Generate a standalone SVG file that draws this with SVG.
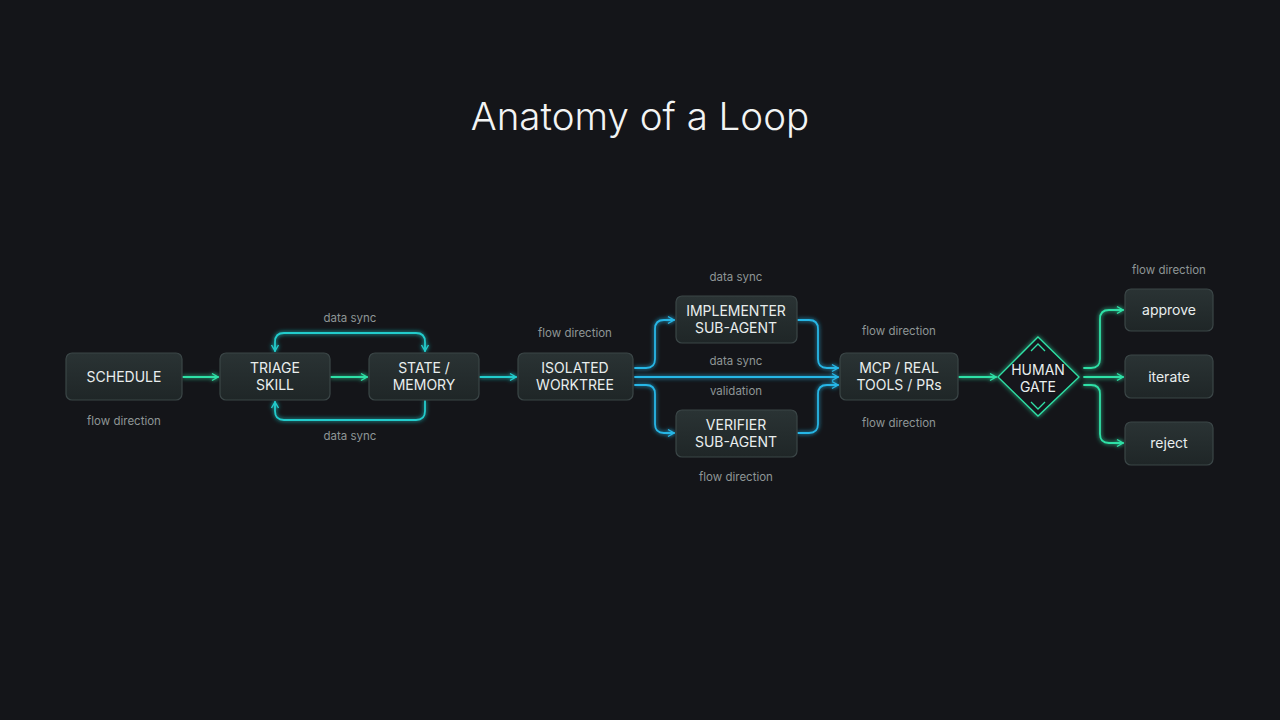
<svg xmlns="http://www.w3.org/2000/svg" width="1280" height="720" viewBox="0 0 1280 720">
<defs>
<style>
.node rect{fill:url(#ng);stroke:#3b4647;stroke-width:1.2}
.nt{font-family:Inter,"Liberation Sans",sans-serif;font-size:14px;fill:#e9eeee;text-anchor:middle}
.lb{font-family:Inter,"Liberation Sans",sans-serif;font-size:11.5px;fill:#8e9596;text-anchor:middle}
.c{fill:none;stroke-width:1.8;stroke-linecap:round;stroke-linejoin:round}
.g{stroke:#2fe0a6;marker-end:url(#ag)}
.t{stroke:#22cccc;marker-end:url(#at)}
.b{stroke:#27b6e6;marker-end:url(#ab)}
</style>
<linearGradient id="ng" x1="0" y1="0" x2="0" y2="1">
<stop offset="0" stop-color="#2a3334"/>
<stop offset="1" stop-color="#1f2627"/>
</linearGradient>
<filter id="glow" filterUnits="userSpaceOnUse" x="0" y="0" width="1280" height="720">
<feGaussianBlur stdDeviation="2.2" result="b"/>
<feMerge><feMergeNode in="b"/><feMergeNode in="SourceGraphic"/></feMerge>
</filter>
<filter id="nglow" x="-20%" y="-30%" width="140%" height="160%">
<feGaussianBlur stdDeviation="2" result="b"/>
<feMerge><feMergeNode in="b"/><feMergeNode in="SourceGraphic"/></feMerge>
</filter>
<marker id="ag" viewBox="0 0 10 10" refX="9" refY="5" markerWidth="10" markerHeight="10" orient="auto-start-reverse" markerUnits="userSpaceOnUse"><path d="M3,1.5 L9,5 L3,8.5" fill="none" stroke="#2fe0a6" stroke-width="1.4"/></marker>
<marker id="at" viewBox="0 0 10 10" refX="9" refY="5" markerWidth="10" markerHeight="10" orient="auto-start-reverse" markerUnits="userSpaceOnUse"><path d="M3,1.5 L9,5 L3,8.5" fill="none" stroke="#22cccc" stroke-width="1.4"/></marker>
<marker id="ab" viewBox="0 0 10 10" refX="9" refY="5" markerWidth="10" markerHeight="10" orient="auto-start-reverse" markerUnits="userSpaceOnUse"><path d="M3,1.5 L9,5 L3,8.5" fill="none" stroke="#27b6e6" stroke-width="1.4"/></marker>
</defs>
<rect width="1280" height="720" fill="#141519"/>
<text x="640" y="130" font-family="Inter,'Liberation Sans',sans-serif" font-size="38.5" font-weight="300" fill="#f2f4f4" text-anchor="middle">Anatomy of a Loop</text>

<g id="connectors" filter="url(#glow)">
<path class="c g" d="M183,377 H218"/>
<path class="c g" d="M331,377 H367"/>
<path class="c t" style="marker-start:url(#at)" d="M275,351 V342 Q275,333 284,333 H416 Q425,333 425,342 V351"/>
<path class="c t" d="M425,401 V411 Q425,420 416,420 H284 Q275,420 275,411 V402"/>
<path class="c t" d="M480,377 H516"/>
<path class="c b" d="M635,368 H646 Q655,368 655,359 V329 Q655,320 664,320 H674"/>
<path class="c b" d="M635,377 H838"/>
<path class="c b" d="M635,385 H646 Q655,385 655,394 V424 Q655,433 664,433 H674"/>
<path class="c b" d="M798,320 H809 Q818,320 818,329 V359 Q818,368 827,368 H838"/>
<path class="c b" d="M798,433 H809 Q818,433 818,424 V394 Q818,385 827,385 H838"/>
<path class="c g" d="M959,377 H996"/>
<path class="c g" d="M1084,368 H1091 Q1100,368 1100,359 V319 Q1100,310 1109,310 H1123"/>
<path class="c g" d="M1084,377 H1123"/>
<path class="c g" d="M1084,385 H1091 Q1100,385 1100,394 V434 Q1100,443 1109,443 H1123"/>
</g>

<g id="labels">
<text class="lb" x="124" y="425">flow direction</text>
<text class="lb" x="350" y="322">data sync</text>
<text class="lb" x="350" y="440">data sync</text>
<text class="lb" x="575" y="337">flow direction</text>
<text class="lb" x="736" y="281">data sync</text>
<text class="lb" x="736" y="365">data sync</text>
<text class="lb" x="736" y="395">validation</text>
<text class="lb" x="736" y="481">flow direction</text>
<text class="lb" x="899" y="335">flow direction</text>
<text class="lb" x="899" y="427">flow direction</text>
<text class="lb" x="1169" y="274">flow direction</text>
</g>

<g id="schedule" class="node"><rect x="66" y="353" width="116" height="47" rx="6"/><text class="nt" x="124" y="382">SCHEDULE</text></g>
<g id="triage" class="node"><rect x="220" y="353" width="110" height="47" rx="6"/><text class="nt" x="275" y="373">TRIAGE</text><text class="nt" x="275" y="390">SKILL</text></g>
<g id="state" class="node"><rect x="369" y="353" width="110" height="47" rx="6"/><text class="nt" x="424" y="373">STATE /</text><text class="nt" x="424" y="390">MEMORY</text></g>
<g id="worktree" class="node"><rect x="518" y="353" width="115" height="47" rx="6"/><text class="nt" x="575" y="373">ISOLATED</text><text class="nt" x="575" y="390">WORKTREE</text></g>
<g id="implementer" class="node"><rect x="676" y="296" width="121" height="47" rx="6"/><text class="nt" x="736" y="316">IMPLEMENTER</text><text class="nt" x="736" y="333">SUB-AGENT</text></g>
<g id="verifier" class="node"><rect x="676" y="410" width="121" height="47" rx="6"/><text class="nt" x="736" y="430">VERIFIER</text><text class="nt" x="736" y="447">SUB-AGENT</text></g>
<g id="mcp" class="node"><rect x="840" y="353" width="118" height="47" rx="6"/><text class="nt" x="899" y="373">MCP / REAL</text><text class="nt" x="899" y="390">TOOLS / PRs</text></g>
<g id="human-gate">
<polygon points="1038,337 1079,377 1038,416 998,377" fill="#16191c" stroke="#2fe0a6" stroke-width="1.3" filter="url(#nglow)"/>
<path d="M1031,351 L1038,344 L1045,351 M1031,402 L1038,409 L1045,402" fill="none" stroke="#2fe0a6" stroke-width="1.3"/>
<text class="nt" x="1038" y="375" font-size="13.5">HUMAN</text><text class="nt" x="1038" y="392" font-size="13.5">GATE</text>
</g>
<g id="approve" class="node"><rect x="1125" y="289" width="88" height="42" rx="6"/><text class="nt" x="1169" y="315">approve</text></g>
<g id="iterate" class="node"><rect x="1125" y="355" width="88" height="43" rx="6"/><text class="nt" x="1169" y="382">iterate</text></g>
<g id="reject" class="node"><rect x="1125" y="422" width="88" height="43" rx="6"/><text class="nt" x="1169" y="448">reject</text></g>
</svg>
